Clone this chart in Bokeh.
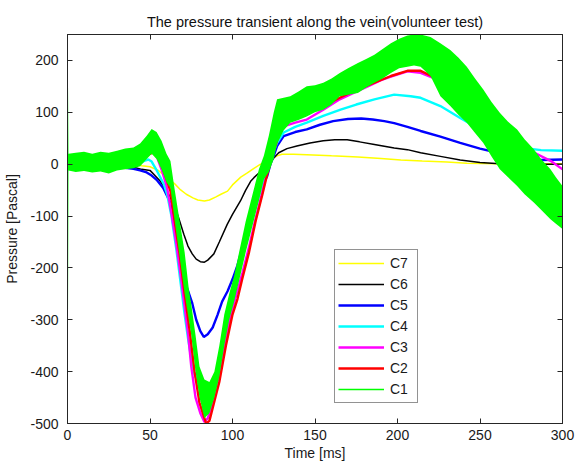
from bokeh.plotting import figure
from bokeh.models import FixedTicker, LinearAxis, Legend, LegendItem, Range1d
from bokeh.embed import file_html
from bokeh.resources import INLINE
import numpy as np

# ---- axis ticks ----
x_ticks = [0, 50, 100, 150, 200, 250, 300]
y_ticks = [-500, -400, -300, -200, -100, 0, 100, 200]

# ---- C7 (yellow) ----
c7_t = [0, 40, 45, 50, 55, 58, 62, 65, 68, 72, 76, 79, 83, 86, 90, 93, 97, 100, 105, 109,
        113, 117, 121, 125, 127, 130, 137, 145, 160, 176, 190, 202, 215, 230, 242, 260, 280, 300]
c7_p = [0, 0, -3, -5, -12, -20, -30, -38, -48, -58, -65, -69, -71, -69, -63, -58, -52, -40, -25, -17,
        -8, 0, 4, 12, 16, 19, 19, 18, 16, 14, 11, 8, 6, 4, 2, 1, 1, 1]

# ---- C6 (black) ----
c6_t = [0, 35, 40, 45, 50, 53, 56, 60, 64, 67, 70.5, 73, 75.6, 78, 80.5, 83, 85, 88.7, 92, 96.8,
        100, 104.8, 108, 111, 113, 116, 119, 122, 125, 128, 133, 139, 147, 155, 162, 169.5, 177, 186,
        198, 206, 214, 226, 238, 250, 262, 282, 300]
c6_p = [-2, -2, -6, -10, -12, -22, -32, -50, -75, -100, -135, -158, -173, -183, -188, -189, -185, -173, -150, -116,
        -97, -71, -50, -33, -26, -17, -8, 0, 12, 22, 30, 35, 41, 45, 47, 47, 43, 38,
        31, 28, 22, 15, 8, 3, 1, 0, 0]

# ---- C5 (blue) ----
c5_t = [0, 30, 35, 40, 44, 48, 51, 54, 58, 62, 65, 68, 71.5, 75.6, 78, 80.5, 82.6, 85, 88, 91,
        93.7, 97, 100, 103, 106, 109, 112, 115, 118, 121, 123, 125, 127, 131, 138, 145, 153, 161, 170, 178,
        185, 192, 198, 206, 214, 226, 238, 250, 262, 274.5, 287, 300]
c5_p = [-3, -5, -7, -9, -12, -16, -22, -30, -46, -72, -112, -170, -230, -268, -300, -322, -333, -328, -315, -290,
        -265, -245, -222, -195, -160, -122, -90, -65, -42, -23, 0, 16, 35, 54, 62, 67, 76, 83, 87, 88,
        86, 83, 79, 72, 64, 53, 41, 30, 21, 13, 8, 9]

# ---- C4 (cyan) ----
c4_t = [0, 40, 44, 47, 49, 51, 54.4, 58.4, 60.4, 63, 66, 69, 71, 73, 75, 77, 80, 83, 86, 89,
        92, 96, 100, 104, 108, 112, 116, 120, 123, 127, 131, 138, 145, 155, 165.5, 175, 186, 198, 208, 214,
        226, 238, 250, 262, 274.5, 287, 300]
c4_p = [2, 2, 2, 7, 9, 5, -14, -39, -58, -100, -165, -240, -290, -335, -375, -405, -430, -442, -438, -420,
        -380, -310, -255, -205, -155, -105, -62, -22, 10, 41, 61, 72, 80, 93, 105, 115, 125, 134, 131, 128,
        112, 89, 67, 48, 32, 27, 26]

# ---- C3 (magenta) ----
c3_t = [0, 40, 44, 48, 50.3, 52, 54.4, 57.4, 60.4, 63, 66, 69, 71, 73, 75, 77.6, 80.5, 83, 85, 87,
        91, 95, 99, 102, 106, 110, 114, 118, 121, 124, 127, 131, 138, 145, 155, 165, 175, 182, 190, 196,
        206, 214, 222, 232, 242, 252, 262, 268, 276, 283, 293, 300]
c3_p = [3, 3, 10, 22, 28, 25, 12, -14, -46, -95, -155, -225, -275, -325, -390, -450, -480, -497, -490, -470,
        -420, -350, -290, -255, -210, -160, -105, -55, -15, 20, 48, 73, 80, 86, 105, 125, 140, 150, 162, 169,
        179, 176, 166, 147, 120, 90, 58, 41, 30, 22, 6, -10]

# ---- C2 (red) ----
c2_t = [0, 40, 45, 50, 53.3, 55.5, 58.4, 62.4, 65, 68, 71, 74, 77, 80, 84, 86, 88, 92, 96, 100,
        103, 106, 110, 114, 118, 121, 124, 127, 129, 132, 135, 145, 157, 165, 175, 186, 196, 206, 214, 222,
        232, 242, 252, 262, 272, 282, 290, 300]
c2_p = [3, 3, 10, 20, 25, 12, -14, -52, -110, -175, -250, -320, -400, -460, -500, -495, -470, -420, -350, -290,
        -260, -220, -170, -110, -60, -20, 15, 45, 61, 85, 92, 102, 115, 128, 143, 157, 170, 180, 180, 168,
        150, 125, 95, 50, 5, -25, -45, -85]

# ---- C1 (green, noisy: lower / upper envelope) ----
c1_t = [0, 0.6, 5, 10, 15, 20, 25, 30, 35, 40, 44, 48, 51, 54, 57, 60, 62.4, 65, 68, 71,
        73.5, 75, 77.6, 80, 83, 86, 89, 92, 95, 98, 101, 104, 108, 112, 116, 119, 122, 125, 127, 131,
        135, 140, 145, 150, 155, 160, 165, 170, 176, 181, 186, 191, 196, 201, 206, 210, 214, 220, 226, 232,
        237, 242, 247, 252, 257, 262, 267, 272.5, 277, 282.6, 287, 292.7, 296, 300]
c1_lo = [-600, -12, -15, -13, -16, -14, -18, -12, -10, -8, -4, 10, 20, 10, -10, -35, -46, -110, -180, -250,
         -300, -330, -400, -450, -490, -480, -450, -410, -350, -300, -265, -225, -170, -120, -70, -29, -15, 10, 40, 65,
         80, 85, 92, 100, 105, 115, 131, 134, 137, 148, 157, 165, 176, 185, 188, 190, 188, 170, 131, 112,
         95, 80, 60, 41, 15, -10, -25, -42, -58, -74, -88, -106, -115, -125]
c1_hi = [300, 20, 22, 24, 20, 24, 22, 26, 30, 32, 40, 55, 68, 62, 45, 20, 6, -50, -110, -170,
         -240, -270, -330, -390, -415, -420, -400, -350, -290, -250, -215, -170, -110, -60, -10, 16, 55, 100, 125, 128,
         131, 140, 150, 152, 157, 165, 176, 185, 195, 203, 211, 222, 233, 242, 248, 250, 250, 245, 233, 220,
         205, 188, 165, 144, 120, 99, 82, 67, 48, 29, 10, -10, -25, -42]

FONT = "Liberation Sans"
FS = "14px"
AX = "#262626"

p = figure(frame_width=495, frame_height=389, output_backend="svg", toolbar_location=None,
           x_range=Range1d(0, 300), y_range=Range1d(-500, 250),
           title="The pressure transient along the vein(volunteer test)",
           x_axis_label="Time [ms]", y_axis_label="Pressure [Pascal]",
           min_border_left=67, min_border_right=14, min_border_top=34, min_border_bottom=42)
p.title.align = "center"
p.title.text_font = FONT
p.title.text_font_size = "14.5px"
p.title.text_font_style = "normal"
p.title.text_color = "#111111"
p.title.standoff = 10
p.xgrid.visible = False
p.ygrid.visible = False
p.outline_line_color = AX
p.outline_line_width = 1
p.background_fill_color = "white"
p.border_fill_color = "white"

for ax, ticks in ((p.xaxis[0], x_ticks), (p.yaxis[0], y_ticks)):
    ax.ticker = FixedTicker(ticks=ticks)
    ax.major_label_overrides = {t: str(t) for t in ticks}
    ax.major_tick_in = 5
    ax.major_tick_out = 0
    ax.minor_tick_line_color = None
    ax.axis_line_color = AX
    ax.major_tick_line_color = AX
    ax.major_label_text_font = FONT
    ax.major_label_text_font_size = FS
    ax.major_label_text_color = "#1a1a1a"
    ax.axis_label_text_font = FONT
    ax.axis_label_text_font_size = FS
    ax.axis_label_text_font_style = "normal"
    ax.axis_label_text_color = "#1a1a1a"
p.xaxis.major_label_standoff = 6
p.xaxis.axis_label_standoff = 2
p.yaxis.major_label_standoff = 9
p.yaxis.axis_label_standoff = 7

top_ax = LinearAxis(ticker=FixedTicker(ticks=x_ticks), major_tick_in=5, major_tick_out=0,
                    minor_tick_line_color=None, major_label_text_font_size="1px",
                    major_label_text_color=None, major_label_standoff=0,
                    axis_line_color=AX, major_tick_line_color=AX)
right_ax = LinearAxis(ticker=FixedTicker(ticks=y_ticks), major_tick_in=5, major_tick_out=0,
                      minor_tick_line_color=None, major_label_text_font_size="1px",
                      major_label_text_color=None, major_label_standoff=0,
                      axis_line_color=AX, major_tick_line_color=AX)
p.add_layout(top_ax, "above")
p.add_layout(right_ax, "right")

r7 = p.line(c7_t, c7_p, line_color="#ffff00", line_width=1.5)
r6 = p.line(c6_t, c6_p, line_color="#000000", line_width=1.5)
r5 = p.line(c5_t, c5_p, line_color="#0000ff", line_width=2.4)
r4 = p.line(c4_t, c4_p, line_color="#00ffff", line_width=2.4)
r3 = p.line(c3_t, c3_p, line_color="#ff00ff", line_width=2.4)
r2 = p.line(c2_t, c2_p, line_color="#ff0000", line_width=2.4)
p.varea(x=c1_t, y1=c1_lo, y2=c1_hi, fill_color="#00ff00", fill_alpha=1.0)
c1_mid = (np.array(c1_lo) + np.array(c1_hi)) / 2.0
r1 = p.line(c1_t[1:], c1_mid[1:], line_color="#00ff00", line_width=1.5)

legend = Legend(items=[LegendItem(label="C7", renderers=[r7]),
                       LegendItem(label="C6", renderers=[r6]),
                       LegendItem(label="C5", renderers=[r5]),
                       LegendItem(label="C4", renderers=[r4]),
                       LegendItem(label="C3", renderers=[r3]),
                       LegendItem(label="C2", renderers=[r2]),
                       LegendItem(label="C1", renderers=[r1])],
                location=(267, 20))
legend.padding = 3
legend.spacing = 1
legend.glyph_height = 20
legend.label_height = 20
legend.glyph_width = 46
legend.label_width = 24
legend.label_standoff = 6
legend.margin = 0
legend.border_line_color = AX
legend.border_line_width = 1
legend.background_fill_alpha = 1.0
legend.label_text_font = FONT
legend.label_text_font_size = FS
legend.label_text_color = "#1a1a1a"
p.add_layout(legend)

open("out.html", "w").write(file_html(p, INLINE))
